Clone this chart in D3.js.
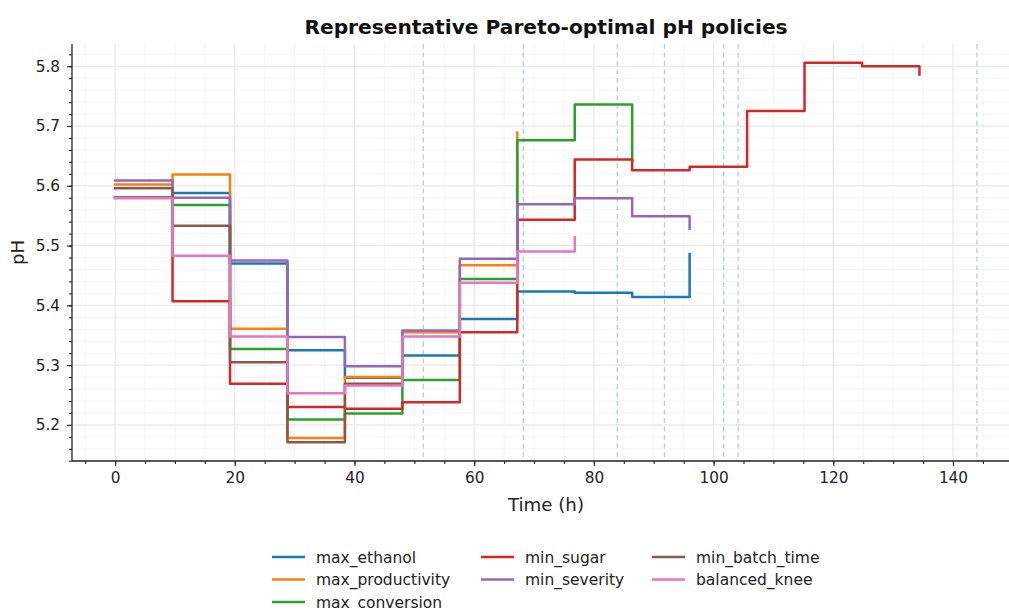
<!DOCTYPE html>
<html>
<head>
<meta charset="utf-8">
<script src="https://cdn.jsdelivr.net/npm/d3@7"></script>
<style>
  html,body{margin:0;padding:0;background:#fff;}
  svg{display:block;font-family:"DejaVu Sans",sans-serif;}
</style>
</head>
<body>
<div id="chart"></div>
<script>
/* ---------- DATA ---------- */
const TIMES = [0, 9.6, 19.2, 28.8, 38.4, 48, 57.6, 67.2, 76.8, 86.4, 96, 105.6, 115.2, 124.8, 134.4];

const max_ethanol      = [5.580, 5.588, 5.470, 5.325, 5.279, 5.316, 5.377, 5.423, 5.421, 5.414, 5.486];
const max_productivity = [5.602, 5.619, 5.361, 5.178, 5.280, 5.355, 5.467, 5.689];
const max_conversion   = [5.580, 5.568, 5.327, 5.209, 5.219, 5.275, 5.444, 5.676, 5.736, 5.642];
const min_sugar        = [5.580, 5.407, 5.269, 5.230, 5.227, 5.238, 5.355, 5.543, 5.644, 5.626, 5.632, 5.725, 5.806, 5.800, 5.786];
const min_severity     = [5.609, 5.580, 5.475, 5.347, 5.298, 5.358, 5.478, 5.569, 5.579, 5.549, 5.528];
const min_batch_time   = [5.596, 5.533, 5.305, 5.171, 5.269, 5.345];
const balanced_knee    = [5.579, 5.483, 5.348, 5.253, 5.266, 5.348, 5.438, 5.490, 5.514];

const SERIES = [
  {name:"max_ethanol",      values:max_ethanol,      color:"#1f77b4"},
  {name:"max_productivity", values:max_productivity, color:"#ff7f0e"},
  {name:"max_conversion",   values:max_conversion,   color:"#2ca02c"},
  {name:"min_sugar",        values:min_sugar,        color:"#d62728"},
  {name:"min_severity",     values:min_severity,     color:"#9467bd"},
  {name:"min_batch_time",   values:min_batch_time,   color:"#8c564b"},
  {name:"balanced_knee",    values:balanced_knee,    color:"#e377c2"}
];

const VLINES  = [51.5, 68.2, 83.9, 91.8, 101.7, 104.1, 144.0];
const X_TICKS = [0, 20, 40, 60, 80, 100, 120, 140];
const Y_TICKS = [5.2, 5.3, 5.4, 5.5, 5.6, 5.7, 5.8];

/* ---------- LAYOUT ---------- */
const W=1009, H=610,
      L=72, R=1020, T=44, B=461;

const svg=d3.select("#chart").append("svg").attr("width",W).attr("height",H);

const x=d3.scaleLinear().domain([-7.2,151.2]).range([L,R]);
const y=d3.scaleLinear().domain([5.1396,5.8372]).range([B,T]);

const xMinor=d3.range(-5,151,5);
const yMinor=d3.range(5.14,5.835,0.02);

/* grid */
const grid=svg.append("g");
grid.selectAll("line.gxm").data(xMinor).enter().append("line")
  .attr("x1",d=>x(d)).attr("x2",d=>x(d)).attr("y1",T).attr("y2",B)
  .attr("stroke","#f2f2f2").attr("stroke-width",0.8);
grid.selectAll("line.gym").data(yMinor).enter().append("line")
  .attr("x1",L).attr("x2",R).attr("y1",d=>y(d)).attr("y2",d=>y(d))
  .attr("stroke","#f2f2f2").attr("stroke-width",0.8);
grid.selectAll("line.gx").data(X_TICKS).enter().append("line")
  .attr("x1",d=>x(d)).attr("x2",d=>x(d)).attr("y1",T).attr("y2",B)
  .attr("stroke","#e6e6e6").attr("stroke-width",1);
grid.selectAll("line.gy").data(Y_TICKS).enter().append("line")
  .attr("x1",L).attr("x2",R).attr("y1",d=>y(d)).attr("y2",d=>y(d))
  .attr("stroke","#e6e6e6").attr("stroke-width",1);

/* dashed markers */
svg.append("g").selectAll("line").data(VLINES).enter().append("line")
  .attr("x1",d=>x(d)).attr("x2",d=>x(d)).attr("y1",T).attr("y2",B)
  .attr("stroke","#1f77b4").attr("stroke-opacity",0.35)
  .attr("stroke-width",1.3).attr("stroke-dasharray","5,3.5");

/* step lines */
const line=d3.line().curve(d3.curveStepAfter)
  .x((d,i)=>x(TIMES[i])).y(d=>y(d));

svg.append("g").selectAll("path").data(SERIES).enter().append("path")
  .attr("d",s=>line(s.values))
  .attr("fill","none").attr("stroke",s=>s.color)
  .attr("stroke-width",2.5).attr("stroke-linejoin","round").attr("stroke-linecap","square");

/* axes */
const xAxis=svg.append("g").attr("transform",`translate(0,${B})`)
  .call(d3.axisBottom(x).tickValues(X_TICKS).tickFormat(d3.format("d")).tickSize(5).tickPadding(6));
svg.append("g").attr("transform",`translate(0,${B})`)
  .call(d3.axisBottom(x).tickValues(xMinor).tickFormat("").tickSize(3))
  .select(".domain").remove();
const yAxis=svg.append("g").attr("transform",`translate(${L},0)`)
  .call(d3.axisLeft(y).tickValues(Y_TICKS).tickFormat(d3.format(".1f")).tickSize(5).tickPadding(7));
svg.append("g").attr("transform",`translate(${L},0)`)
  .call(d3.axisLeft(y).tickValues(yMinor).tickFormat("").tickSize(3))
  .select(".domain").remove();

svg.selectAll(".domain").attr("stroke","#222").attr("stroke-width",1.3);
xAxis.select(".domain").attr("d",`M${L},0H${R}`);
yAxis.select(".domain").attr("d",`M0,${T}V${B}`);
svg.selectAll(".tick line").attr("stroke","#222").attr("stroke-width",1.1);
svg.selectAll(".tick text").attr("font-family","DejaVu Sans").attr("font-size",15.3).attr("fill","#222");

/* labels */
svg.append("text").attr("x",(L+R)/2).attr("y",34).attr("text-anchor","middle")
  .attr("font-size",20.2).attr("font-weight","bold").attr("fill","#111")
  .text("Representative Pareto-optimal pH policies");
svg.append("text").attr("x",(L+R)/2).attr("y",511).attr("text-anchor","middle")
  .attr("font-size",18.2).attr("fill","#222").text("Time (h)");
svg.append("text").attr("transform",`translate(24,${(T+B)/2}) rotate(-90)`)
  .attr("text-anchor","middle").attr("font-size",18.2).attr("fill","#222").text("pH");

/* legend: 3 columns filled column-first (3, 2, 2) */
const COLS=[272,481,652], ROWS=[557,579.5,602];
const LEG_POS=[[0,0],[0,1],[0,2],[1,0],[1,1],[2,0],[2,1]];
const leg=svg.append("g").selectAll("g").data(SERIES).enter().append("g")
  .attr("transform",(s,i)=>`translate(${COLS[LEG_POS[i][0]]},${ROWS[LEG_POS[i][1]]})`);
leg.append("line").attr("x1",0).attr("x2",33).attr("y1",0).attr("y2",0)
  .attr("stroke",s=>s.color).attr("stroke-width",2.5);
leg.append("text").attr("x",44).attr("y",5.5).attr("font-size",15.5).attr("fill","#222")
  .text(s=>s.name);
</script>
</body>
</html>
